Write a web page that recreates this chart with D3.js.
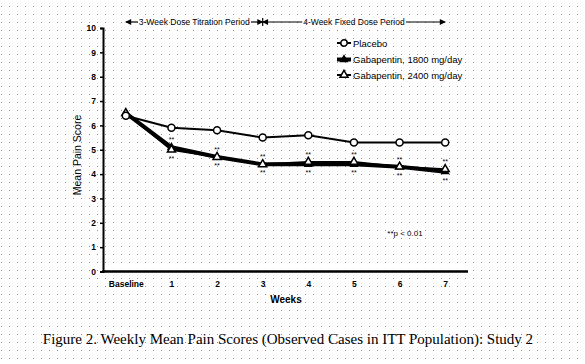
<!DOCTYPE html>
<html>
<head>
<meta charset="utf-8">
<script src="https://cdn.jsdelivr.net/npm/d3@7"></script>
<style>
  body { margin: 0; background: #fff; }
  svg { display: block; }
  .tick text { font-family: "Liberation Sans", Arial, sans-serif; font-weight: bold; font-size: 8.5px; fill: #000; }
  .lbl { font-family: "Liberation Sans", Arial, sans-serif; fill: #000; }
</style>
</head>
<body>
<svg id="chart" width="585" height="364"></svg>
<script>
// data
var categories = ["Baseline", "1", "2", "3", "4", "5", "6", "7"]
var placebo = [6.4, 5.9, 5.8, 5.5, 5.6, 5.3, 5.3, 5.3]
var gaba1800 = [6.5, 5.1, 4.7, 4.4, 4.4, 4.4, 4.3, 4.1]
var gaba2400 = [6.5, 5.0, 4.7, 4.4, 4.5, 4.5, 4.3, 4.2]
var yTicks = [0, 1, 2, 3, 4, 5, 6, 7, 8, 9, 10]
var seriesNames = ["Placebo", "Gabapentin, 1800 mg/day", "Gabapentin, 2400 mg/day"]
var periods = [
  { label: "3-Week Dose Titration Period", from: "Baseline", to: "3" },
  { label: "4-Week Fixed Dose Period", from: "3", to: "7" }
]
var sigWeeks = ["1", "2", "3", "4", "5", "6", "7"]

var svg = d3.select("#chart")

// dotted background
var defs = svg.append("defs")
defs.append("pattern")
  .attr("id", "dots")
  .attr("width", 8).attr("height", 8)
  .attr("patternUnits", "userSpaceOnUse")
  .append("rect")
  .attr("x", 1).attr("y", 6).attr("width", 1).attr("height", 1)
  .attr("fill", "#8a8a8a")
svg.append("rect").attr("width", 585).attr("height", 364).attr("fill", "url(#dots)")

var mk = defs.append("marker")
  .attr("id", "arrow").attr("viewBox", "0 0 10 10")
  .attr("refX", 9).attr("refY", 5)
  .attr("markerWidth", 7).attr("markerHeight", 6)
  .attr("markerUnits", "userSpaceOnUse")
  .attr("orient", "auto-start-reverse")
mk.append("path").attr("d", "M0,0L10,5L0,10Z").attr("fill", "#000")

var plotLeft = 103, plotRight = 468, plotTop = 28, plotBottom = 271.5

var x = d3.scalePoint().domain(categories).range([plotLeft, plotRight]).padding(0.5)
var y = d3.scaleLinear().domain([0, 10]).range([plotBottom, plotTop])

// axes
var yAxis = d3.axisLeft(y).tickValues(yTicks).tickSize(3).tickPadding(4)
var gy = svg.append("g").attr("transform", "translate(" + plotLeft + ",0)").call(yAxis)
gy.select(".domain").attr("stroke-width", 2)
gy.selectAll(".tick line").attr("stroke-width", 1.5)

var xAxis = d3.axisBottom(x).tickSize(0).tickPadding(9)
var gx = svg.append("g").attr("transform", "translate(0," + plotBottom + ")").call(xAxis)
gx.select(".domain").attr("stroke-width", 2.5).attr("d", "M" + (plotLeft - 1) + ",0H" + plotRight)

svg.append("text").attr("class", "lbl")
  .attr("x", 286).attr("y", 303)
  .attr("text-anchor", "middle")
  .attr("font-size", 10).attr("font-weight", "bold")
  .text("Weeks")

svg.append("text").attr("class", "lbl")
  .attr("transform", "translate(81,155) rotate(-90)")
  .attr("text-anchor", "middle")
  .attr("font-size", 10.5)
  .text("Mean Pain Score")

// lines
var line = d3.line()
  .x(function (d, i) { return x(categories[i]) })
  .y(function (d) { return y(d) })

svg.append("path").datum(gaba1800).attr("d", line)
  .attr("fill", "none").attr("stroke", "#000").attr("stroke-width", 4)
svg.append("path").datum(gaba2400).attr("d", line)
  .attr("fill", "none").attr("stroke", "#000").attr("stroke-width", 2)
svg.append("path").datum(placebo).attr("d", line)
  .attr("fill", "none").attr("stroke", "#000").attr("stroke-width", 2)

var triFilled = d3.symbol().type(d3.symbolTriangle).size(36)
var triOpen = d3.symbol().type(d3.symbolTriangle).size(28)

svg.append("g").selectAll("path").data(gaba1800).join("path")
  .attr("d", triFilled)
  .attr("transform", function (d, i) { return "translate(" + x(categories[i]) + "," + y(d) + ")" })
  .attr("fill", "#000")
svg.append("g").selectAll("path").data(gaba2400).join("path")
  .attr("d", triOpen)
  .attr("transform", function (d, i) { return "translate(" + x(categories[i]) + "," + y(d) + ")" })
  .attr("fill", "#fff").attr("stroke", "#000").attr("stroke-width", 1.5)
svg.append("g").selectAll("circle").data(placebo).join("circle")
  .attr("cx", function (d, i) { return x(categories[i]) })
  .attr("cy", function (d) { return y(d) })
  .attr("r", 3.5)
  .attr("fill", "#fff").attr("stroke", "#000").attr("stroke-width", 1.5)

// significance stars
var sig = svg.append("g").attr("class", "lbl").attr("font-size", 7).attr("text-anchor", "middle")
sigWeeks.forEach(function (w) {
  var i = categories.indexOf(w)
  var hi = Math.max(gaba1800[i], gaba2400[i])
  var lo = Math.min(gaba1800[i], gaba2400[i])
  sig.append("text").attr("x", x(w)).attr("y", y(hi) - 5).text("**")
  sig.append("text").attr("x", x(w)).attr("y", y(lo) + 11).text("**")
})

svg.append("text").attr("class", "lbl")
  .attr("x", 405).attr("y", 236)
  .attr("text-anchor", "middle").attr("font-size", 8)
  .text("**p < 0.01")

// period arrows
periods.forEach(function (p) {
  var x0 = x(p.from), x1 = x(p.to), yy = 22
  var t = svg.append("text").attr("class", "lbl")
    .attr("x", (x0 + x1) / 2).attr("y", yy + 3)
    .attr("text-anchor", "middle").attr("font-size", 8.5)
    .text(p.label)
  var bb = t.node().getBBox()
  svg.append("line")
    .attr("x1", bb.x - 1).attr("x2", x0).attr("y1", yy).attr("y2", yy)
    .attr("stroke", "#000").attr("stroke-width", 1.2)
    .attr("marker-end", "url(#arrow)")
  svg.append("line")
    .attr("x1", bb.x + bb.width + 1).attr("x2", x1).attr("y1", yy).attr("y2", yy)
    .attr("stroke", "#000").attr("stroke-width", 1.2)
    .attr("marker-end", "url(#arrow)")
})
svg.append("line")
  .attr("x1", x("3")).attr("x2", x("3")).attr("y1", 18).attr("y2", 26)
  .attr("stroke", "#000").attr("stroke-width", 1.2)

// legend
var legend = svg.append("g").attr("transform", "translate(337,0)")
var legendY = [43, 59.5, 75]
seriesNames.forEach(function (name, i) {
  var g = legend.append("g").attr("transform", "translate(0," + legendY[i] + ")")
  g.append("line").attr("x1", 0).attr("x2", 14).attr("y1", 0).attr("y2", 0)
    .attr("stroke", "#000").attr("stroke-width", i === 1 ? 4 : 2)
  if (i === 0) {
    g.append("circle").attr("cx", 7).attr("cy", 0).attr("r", 3.2)
      .attr("fill", "#fff").attr("stroke", "#000").attr("stroke-width", 1.5)
  } else if (i === 1) {
    g.append("path").attr("d", triFilled).attr("transform", "translate(7,0)").attr("fill", "#000")
  } else {
    g.append("path").attr("d", triOpen).attr("transform", "translate(7,0)")
      .attr("fill", "#fff").attr("stroke", "#000").attr("stroke-width", 1.5)
  }
  g.append("text").attr("class", "lbl")
    .attr("x", 16).attr("y", 3.5).attr("font-size", 9.5)
    .text(name)
})

// caption
svg.append("text")
  .attr("x", 288).attr("y", 344)
  .attr("text-anchor", "middle")
  .attr("font-family", "'Liberation Serif', 'Times New Roman', serif")
  .attr("font-size", 15)
  .text("Figure 2. Weekly Mean Pain Scores (Observed Cases in ITT Population): Study 2")
</script>
</body>
</html>
